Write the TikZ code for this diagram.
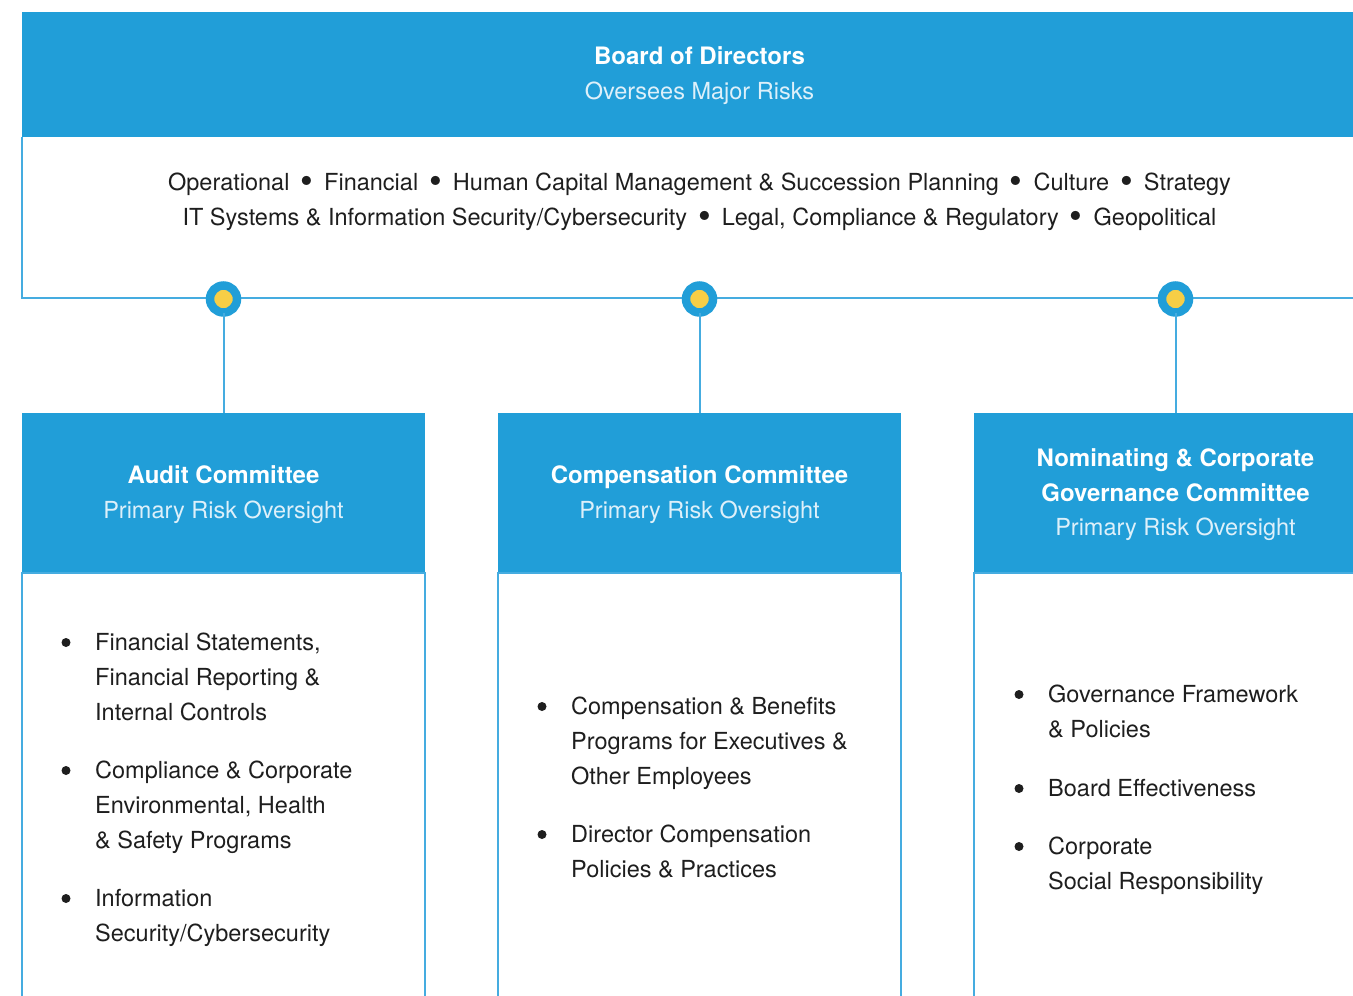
\documentclass[tikz,border=0pt]{standalone}
\usepackage{fontspec}
\setmainfont{TeX Gyre Heros}
\definecolor{brand}{HTML}{219ED8}
\definecolor{rulec}{HTML}{45ACE0}
\definecolor{dotcore}{HTML}{F7CE46}
\definecolor{subtle}{HTML}{DDF0FA}
\definecolor{ink}{HTML}{1E1E1E}
\newcommand\txtsize{\fontsize{23.5}{35}\selectfont}
\newcommand\ttlsize{\fontsize{24}{35}\selectfont}
\newcommand\bigdot{\raisebox{-3.5pt}{\scalebox{1.55}{\textbullet}}}
\begin{document}
\begin{tikzpicture}[x=1pt,y=-1pt,
  bluebox/.style={fill=brand, draw=none, inner sep=0pt, outer sep=0pt, anchor=north west},
  framebox/.style={draw=rulec, line width=2pt},
  joint/.style={circle, fill=dotcore, draw=brand, line width=8.5pt, minimum size=27pt, inner sep=0pt, outer sep=0pt},
  link/.style={draw=rulec, line width=2pt},
  ttl/.style={font=\ttlsize\bfseries, text=white, anchor=base, inner sep=0pt},
  sub/.style={font=\txtsize, text=subtle, anchor=base, inner sep=0pt},
  body/.style={font=\txtsize, text=ink, anchor=base west, inner sep=0pt},
  risk/.style={font=\txtsize, text=ink, anchor=base, inner sep=0pt},
  dotmark/.style={circle, fill=ink, inner sep=0pt, minimum size=9pt, yshift=7.5pt}]
\useasboundingbox (0,0) rectangle (1353,996);
\clip (0,0) rectangle (1353,996);

% board of directors
\node[bluebox, minimum width=1345pt, minimum height=125pt] (board) at (22,12) {};
\node[ttl] (boardt) at (699.5,64) {Board of Directors};
\node[sub] (boards) at (699.5,99) {Oversees Major Risks};
\draw[link] (1360,298) -- (22,298) -- (board.south west);

% major risks
\newcommand\sep{\hspace{11pt}\bigdot\hspace{11pt}}
\node[risk] (risk1) at (699.5,190) {Operational\sep Financial\sep Human Capital Management \& Succession Planning\sep Culture\sep Strategy};
\node[risk] (risk2) at (699.5,225) {IT Systems \& Information Security/Cybersecurity\sep Legal, Compliance \& Regulatory\sep Geopolitical};

% committee boxes
\node[bluebox, minimum width=403pt, minimum height=160pt] (audit) at (22,413) {};
\node[bluebox, minimum width=403pt, minimum height=160pt] (comp) at (498,413) {};
\node[bluebox, minimum width=403pt, minimum height=160pt] (nom) at (974,413) {};
\draw[framebox] (22,573) rectangle (425,1010);
\draw[framebox] (498,573) rectangle (901,1010);
\draw[framebox] (974,573) rectangle (1377,1010);

% connectors and joints
\node[joint] (j1) at (audit.north |- 0,299) {};
\node[joint] (j2) at (comp.north |- 0,299) {};
\node[joint] (j3) at (nom.north |- 0,299) {};
\draw[link] (j1) -- (audit.north);
\draw[link] (j2) -- (comp.north);
\draw[link] (j3) -- (nom.north);

% committee headings
\node[ttl] (auditt) at (223.5,483) {Audit Committee};
\node[sub] (audits) at (223.5,518) {Primary Risk Oversight};
\node[ttl] (compt) at (699.5,483) {Compensation Committee};
\node[sub] (comps) at (699.5,518) {Primary Risk Oversight};
\node[ttl] (nomt1) at (1175.5,466) {Nominating \& Corporate};
\node[ttl] (nomt2) at (1175.5,501) {Governance Committee};
\node[sub] (noms) at (1175.5,535) {Primary Risk Oversight};

% audit committee items
\node[dotmark] (a1) at (66,650) {};
\node[body] (a1a) at (95,650) {Financial Statements,};
\node[body] (a1b) at (95,685) {Financial Reporting \&};
\node[body] (a1c) at (95,720) {Internal Controls};
\node[dotmark] (a2) at (66,778) {};
\node[body] (a2a) at (95,778) {Compliance \& Corporate};
\node[body] (a2b) at (95,813) {Environmental, Health};
\node[body] (a2c) at (95,848) {\& Safety Programs};
\node[dotmark] (a3) at (66,906) {};
\node[body] (a3a) at (95,906) {Information};
\node[body] (a3b) at (95,941) {Security/Cybersecurity};

% compensation committee items
\node[dotmark] (c1) at (542,714) {};
\node[body] (c1a) at (571,714) {Compensation \& Benefits};
\node[body] (c1b) at (571,749) {Programs for Executives \&};
\node[body] (c1c) at (571,784) {Other Employees};
\node[dotmark] (c2) at (542,842) {};
\node[body] (c2a) at (571,842) {Director Compensation};
\node[body] (c2b) at (571,877) {Policies \& Practices};

% nominating committee items
\node[dotmark] (n1) at (1019,702) {};
\node[body] (n1a) at (1048,702) {Governance Framework};
\node[body] (n1b) at (1048,737) {\& Policies};
\node[dotmark] (n2) at (1019,796) {};
\node[body] (n2a) at (1048,796) {Board Effectiveness};
\node[dotmark] (n3) at (1019,854) {};
\node[body] (n3a) at (1048,854) {Corporate};
\node[body] (n3b) at (1048,889) {Social Responsibility};
\end{tikzpicture}
\end{document}
